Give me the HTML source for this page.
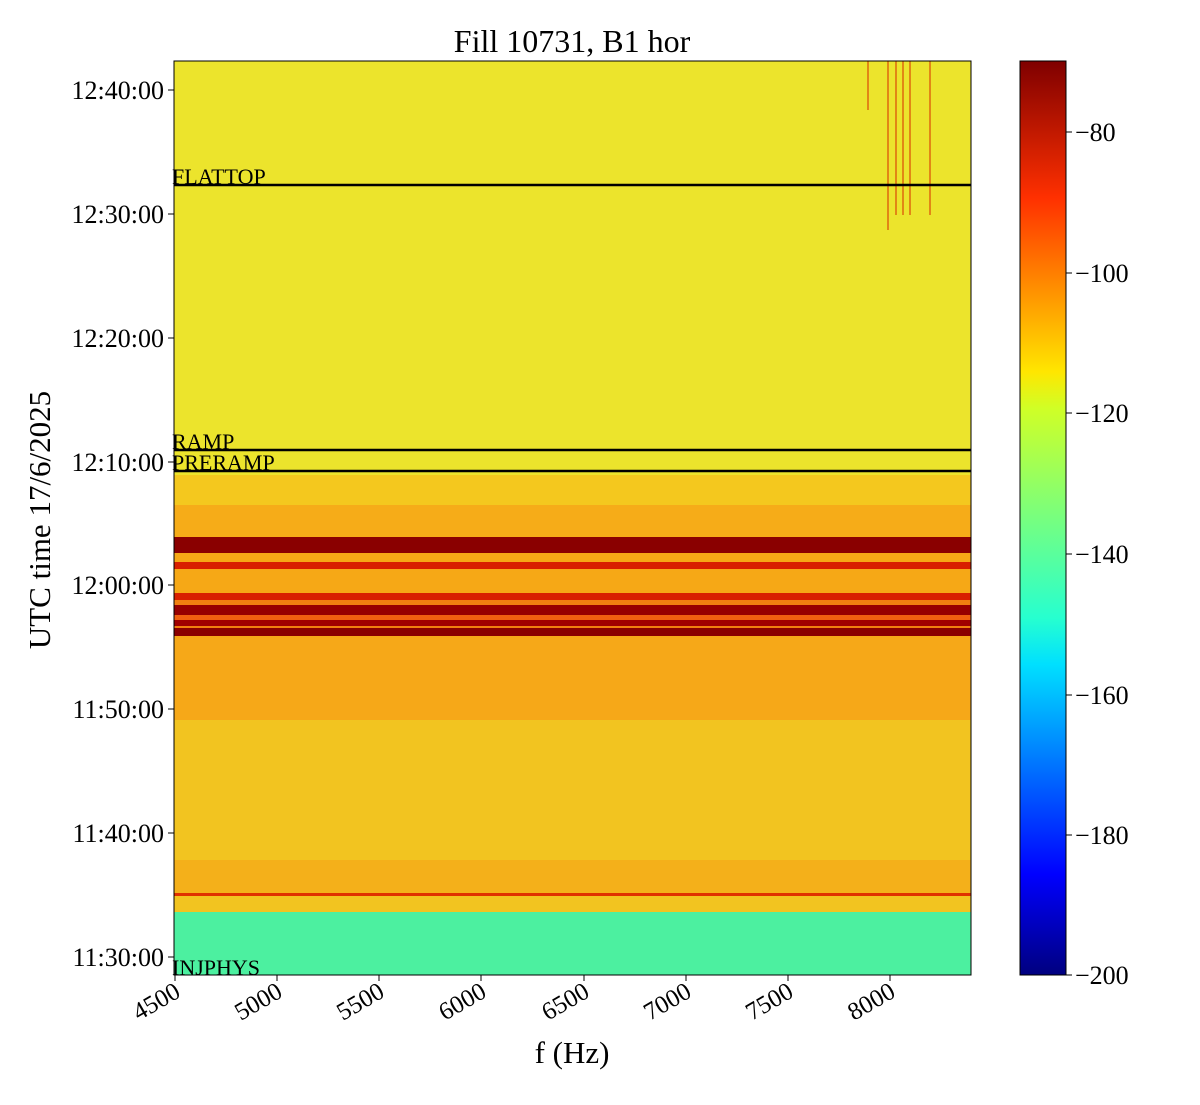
<!DOCTYPE html>
<html><head><meta charset="utf-8"><style>
body{margin:0;background:#fff;}
svg text{font-family:"Liberation Serif",serif;fill:#000;}
</style></head><body>
<svg width="1200" height="1100" xmlns="http://www.w3.org/2000/svg">
<defs>
<linearGradient id="cb" x1="0" y1="1" x2="0" y2="0">
<stop offset="0" stop-color="#00007f"/>
<stop offset="0.11" stop-color="#0000ff"/>
<stop offset="0.34" stop-color="#00e0ff"/>
<stop offset="0.39" stop-color="#26ffd0"/>
<stop offset="0.62" stop-color="#d0ff26"/>
<stop offset="0.66" stop-color="#ffe600"/>
<stop offset="0.85" stop-color="#ff3000"/>
<stop offset="1" stop-color="#7f0000"/>
</linearGradient>
</defs>
<text x="572" y="52" font-size="32" text-anchor="middle">Fill 10731, B1 hor</text>
<g>
<rect x="174" y="61" width="797" height="414" fill="#ece42c"/>
<rect x="174" y="475" width="797" height="30" fill="#f4c81e"/>
<rect x="174" y="505" width="797" height="32" fill="#f6ac18"/>
<rect x="174" y="537" width="797" height="16" fill="#8a0000"/>
<rect x="174" y="553" width="797" height="40" fill="#f6a816"/>
<rect x="174" y="562" width="797" height="7" fill="#d82000"/>
<rect x="174" y="593" width="797" height="7" fill="#d82000"/>
<rect x="174" y="600" width="797" height="5" fill="#f08010"/>
<rect x="174" y="605" width="797" height="10" fill="#960000"/>
<rect x="174" y="615" width="797" height="5" fill="#f06010"/>
<rect x="174" y="620" width="797" height="6" fill="#a00000"/>
<rect x="174" y="626" width="797" height="2" fill="#f08010"/>
<rect x="174" y="628" width="797" height="8" fill="#8a0000"/>
<rect x="174" y="636" width="797" height="84" fill="#f6a818"/>
<rect x="174" y="720" width="797" height="140" fill="#f2c420"/>
<rect x="174" y="860" width="797" height="33" fill="#f4b01a"/>
<rect x="174" y="893" width="797" height="3" fill="#e03000"/>
<rect x="174" y="896" width="797" height="16" fill="#f2c420"/>
<rect x="174" y="912" width="797" height="63" fill="#4cf0a0"/>
<g stroke="#e07010" stroke-width="2" opacity="0.8">
<line x1="888" y1="61" x2="888" y2="230"/><line x1="896" y1="61" x2="896" y2="215"/>
<line x1="903" y1="61" x2="903" y2="215"/><line x1="910" y1="61" x2="910" y2="215"/>
<line x1="868" y1="61" x2="868" y2="110"/><line x1="930" y1="61" x2="930" y2="215"/>
</g>
<g stroke="#000" stroke-width="2.5">
<line x1="174" y1="185" x2="971" y2="185"/>
<line x1="174" y1="450" x2="971" y2="450"/>
<line x1="174" y1="471" x2="971" y2="471"/>
</g>
<g font-size="22">
<text x="172" y="184">FLATTOP</text>
<text x="172" y="449">RAMP</text>
<text x="172" y="470">PRERAMP</text>
<text x="172" y="975">INJPHYS</text>
</g>
<rect x="174" y="61" width="797" height="914" fill="none" stroke="#000" stroke-width="1"/>
</g>
<g font-size="26" text-anchor="end">
<g stroke="#000"><line x1="168" y1="90" x2="174" y2="90"/><line x1="168" y1="214" x2="174" y2="214"/><line x1="168" y1="338" x2="174" y2="338"/><line x1="168" y1="462" x2="174" y2="462"/><line x1="168" y1="585" x2="174" y2="585"/><line x1="168" y1="709" x2="174" y2="709"/><line x1="168" y1="833" x2="174" y2="833"/><line x1="168" y1="957" x2="174" y2="957"/></g>
<text x="164" y="99">12:40:00</text><text x="164" y="223">12:30:00</text><text x="164" y="347">12:20:00</text><text x="164" y="471">12:10:00</text><text x="164" y="594">12:00:00</text><text x="164" y="718">11:50:00</text><text x="164" y="842">11:40:00</text><text x="164" y="966">11:30:00</text>
</g>
<text transform="translate(50,520) rotate(-90)" font-size="31" text-anchor="middle">UTC time 17/6/2025</text>
<g stroke="#000"><line x1="175" y1="975" x2="175" y2="981"/><line x1="277" y1="975" x2="277" y2="981"/><line x1="379" y1="975" x2="379" y2="981"/><line x1="481" y1="975" x2="481" y2="981"/><line x1="584" y1="975" x2="584" y2="981"/><line x1="686" y1="975" x2="686" y2="981"/><line x1="788" y1="975" x2="788" y2="981"/><line x1="890" y1="975" x2="890" y2="981"/></g>
<g font-size="25" text-anchor="end">
<text transform="translate(182,996) rotate(-30)">4500</text>
<text transform="translate(284,996) rotate(-30)">5000</text>
<text transform="translate(386,996) rotate(-30)">5500</text>
<text transform="translate(488,996) rotate(-30)">6000</text>
<text transform="translate(591,996) rotate(-30)">6500</text>
<text transform="translate(693,996) rotate(-30)">7000</text>
<text transform="translate(795,996) rotate(-30)">7500</text>
<text transform="translate(897,996) rotate(-30)">8000</text>
</g>
<text x="572" y="1063" font-size="31" text-anchor="middle">f (Hz)</text>
<rect x="1020" y="61" width="46" height="914" fill="url(#cb)" stroke="#000"/>
<g stroke="#000"><line x1="1066" y1="132" x2="1072" y2="132"/><line x1="1066" y1="273" x2="1072" y2="273"/><line x1="1066" y1="413" x2="1072" y2="413"/><line x1="1066" y1="554" x2="1072" y2="554"/><line x1="1066" y1="695" x2="1072" y2="695"/><line x1="1066" y1="835" x2="1072" y2="835"/><line x1="1066" y1="975" x2="1072" y2="975"/></g>
<g font-size="26">
<text x="1075" y="141">−80</text><text x="1075" y="282">−100</text><text x="1075" y="422">−120</text><text x="1075" y="563">−140</text><text x="1075" y="704">−160</text><text x="1075" y="844">−180</text><text x="1075" y="984">−200</text>
</g>
</svg>
</body></html>
